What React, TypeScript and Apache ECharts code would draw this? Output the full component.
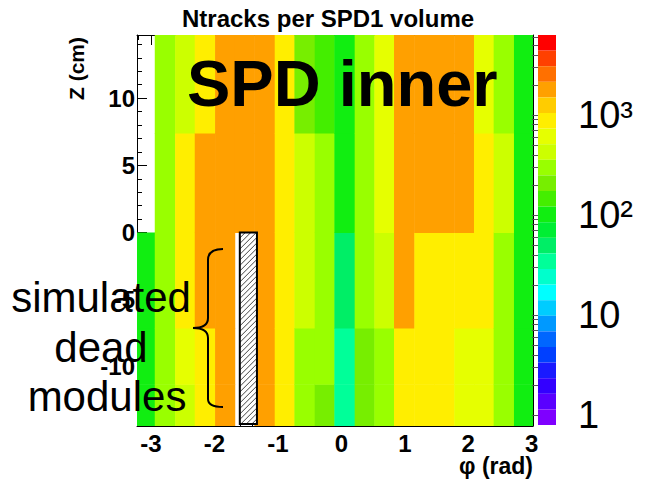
import React, { useEffect, useRef } from 'react';
import * as echarts from 'echarts';

// ---------- data ----------
const phiEdges = [-3.25, -2.94, -2.62, -2.31, -1.99, -1.68, -1.37, -1.05, -0.74, -0.42, -0.11, 0.21, 0.52, 0.83, 1.15, 1.46, 1.78, 2.09, 2.40, 2.72, 3.03];
const zEdges = [-14.4, -11.3, -7.1, 0, 7.4, 14.7];
// Ntracks per (phi column) for z bins bottom -> top; null = empty
const counts: (number | null)[][] = [
  [105, 110, 100, null, null],
  [300, 290, 310, 295, 305],
  [430, 610, 880, 870, 430],
  [880, 860, 1800, 1750, 890],
  [1800, 1850, 1780, 1820, 1790],
  [null, null, null, 1800, 1810],
  [1790, 1820, 1800, 1830, 1780],
  [880, 890, 900, 870, 860],
  [300, 310, 430, 440, 210],
  [210, 300, 300, 295, 150],
  [35, 36, 49, 100, 105],
  [210, 205, 300, 300, 295],
  [300, 295, 430, 610, 600],
  [870, 880, 1800, 1790, 1820],
  [890, 870, 880, 1800, 1780],
  [880, 900, 870, 1810, 1800],
  [600, 610, 880, 1790, 1800],
  [620, 600, 880, 870, 600],
  [300, 295, 300, 430, 300],
  [110, 105, 100, 102, 108],
];
const deadPhi = [-1.6, -1.33];
const deadZ = [-14.25, 0];

const xMin = -3.22, xMax = 3.02;
const yMin = -14.4, yMax = 14.7;

const colorbarTicks = [1, 10, 100, 1000];
const colorbarLabels = ['1', '10', '10²', '10³'];
const colorbarMinorTicks = [2, 3, 4, 5, 6, 7, 8, 9, 20, 30, 40, 50, 60, 70, 80, 90, 200, 300, 400, 500, 600, 700, 800, 900, 2000, 3000, 4000, 5000, 6000];
const logMin = -0.1, logMax = 3.8;
const paletteColors = [
  '#7f00ff', '#5a00ff', '#3300ff', '#1a1aff', '#0040ff', '#0066ff', '#0099ff', '#00ccff', '#00ffff', '#00ffcc',
  '#00ff99', '#00ee66', '#00ee33', '#11ee11', '#44ee00', '#77ee00', '#99ff00', '#ccff00', '#e6ff00', '#ffee00',
  '#ffcc00', '#ffa000', '#ff7000', '#ff4000', '#ff0000',
];

const braceD = 'M223 249 C214 249 208 252 208 260 L208 318 C208 324 203 328 193 328 C203 328 208 332 208 338 L208 399 C208 405 214 407 223 407';
echarts.graphic.registerShape('brace', echarts.graphic.extendPath(braceD, {}));

const FONT = 'Liberation Sans';

export default function App() {
  const ref = useRef<HTMLDivElement>(null);
  useEffect(() => {
    if (!ref.current) return;
    const chart = echarts.init(ref.current, null, { renderer: 'svg' });

    const heatData: number[][] = [];
    counts.forEach((col, i) => {
      col.forEach((n, j) => {
        if (n != null) heatData.push([phiEdges[i], phiEdges[i + 1], zEdges[j], zEdges[j + 1], n]);
      });
    });

    const step = (logMax - logMin) / paletteColors.length;
    const pieces = paletteColors.map((c, i) => ({
      gte: Math.pow(10, logMin + i * step),
      lt: Math.pow(10, logMin + (i + 1) * step),
      color: c,
    })).reverse();

    const axisCommon = {
      type: 'value',
      axisLine: { show: true, onZero: false, lineStyle: { color: '#000', width: 1 } },
      axisTick: { show: true, inside: true, length: 10, lineStyle: { color: '#000' } },
      minorTick: { show: true, splitNumber: 5, length: 5, lineStyle: { color: '#000' } },
      splitLine: { show: false },
      minorSplitLine: { show: false },
    };
    const labelStyle = { color: '#000', fontFamily: FONT, fontWeight: 'bold', fontSize: 24, showMinLabel: false, showMaxLabel: false };

    chart.setOption({
      animation: false,
      backgroundColor: '#fff',
      title: {
        text: 'Ntracks per SPD1 volume',
        left: 182, top: 6, padding: 0,
        textStyle: { fontFamily: FONT, fontWeight: 'bold', fontSize: 24, color: '#000' },
      },
      grid: [
        { left: 137, top: 35, width: 396, height: 391, outerBoundsMode: 'none', containLabel: false },
        { left: 538, top: 35, width: 18, height: 390, outerBoundsMode: 'none', containLabel: false },
      ],
      xAxis: [
        { ...axisCommon, gridIndex: 0, position: 'bottom', min: xMin, max: xMax, axisLabel: { ...labelStyle, margin: 5 } },
        { ...axisCommon, gridIndex: 0, position: 'top', min: xMin, max: xMax, axisLabel: { show: false } },
        { type: 'value', gridIndex: 1, show: false, min: 0, max: 1 },
      ],
      yAxis: [
        { ...axisCommon, gridIndex: 0, position: 'left', min: yMin, max: yMax, axisLabel: { ...labelStyle, margin: 2 } },
        { ...axisCommon, gridIndex: 0, position: 'right', min: yMin, max: yMax, axisLabel: { show: false } },
        {
          type: 'log', logBase: 10, gridIndex: 1, position: 'right', z: 10,
          min: Math.pow(10, logMin), max: Math.pow(10, logMax),
          axisLine: { show: false },
          splitLine: { show: false },
          axisTick: { show: true, inside: true, length: 6, customValues: colorbarMinorTicks.concat(colorbarTicks), lineStyle: { color: '#555' } },
          axisLabel: {
            customValues: colorbarTicks,
            formatter: (v: number) => colorbarLabels[colorbarTicks.findIndex((t) => Math.abs(t - v) < 1e-6 * t)] ?? '',
            color: '#000', fontFamily: FONT, fontSize: 38, margin: 22,
          },
        },
      ],
      visualMap: {
        type: 'piecewise', seriesIndex: 0, dimension: 4, orient: 'vertical',
        left: 538, top: 35, padding: 0, itemWidth: 18, itemHeight: 390 / paletteColors.length, itemGap: 0,
        itemSymbol: 'rect', showLabel: false, selectedMode: false, hoverLink: false,
        pieces,
      },
      series: [
        {
          type: 'custom', name: 'Ntracks', coordinateSystem: 'cartesian2d', xAxisIndex: 0, yAxisIndex: 0,
          clip: true, encode: { x: [0, 1], y: [2, 3] },
          data: heatData,
          renderItem: (params: any, api: any) => {
            const a = api.coord([api.value(0), api.value(3)]);
            const b = api.coord([api.value(1), api.value(2)]);
            return {
              type: 'rect',
              shape: { x: a[0], y: a[1], width: b[0] - a[0] + 0.5, height: b[1] - a[1] + 0.5 },
              style: { fill: api.visual('color') },
            };
          },
        },
        {
          type: 'custom', name: 'dead', coordinateSystem: 'cartesian2d', xAxisIndex: 0, yAxisIndex: 0,
          clip: true, z: 5, encode: { x: [0, 1], y: [2, 3] },
          data: [[deadPhi[0], deadPhi[1], deadZ[0], deadZ[1]]],
          renderItem: (params: any, api: any) => {
            const a = api.coord([api.value(0), api.value(3)]);
            const b = api.coord([api.value(1), api.value(2)]);
            const x0 = a[0], y0 = a[1], x1 = b[0], y1 = b[1];
            const children: any[] = [
              { type: 'rect', shape: { x: x0, y: y0, width: x1 - x0, height: y1 - y0 }, style: { fill: '#fff' } },
            ];
            const s = 5.5;
            for (let c = x0 + y0 + s; c < x1 + y1; c += s) {
              const xa = Math.max(x0, c - y1);
              const xb = Math.min(x1, c - y0);
              if (xb > xa) children.push({ type: 'line', shape: { x1: xa, y1: c - xa, x2: xb, y2: c - xb }, style: { stroke: '#444', lineWidth: 1 } });
            }
            children.push({ type: 'rect', shape: { x: x0, y: y0, width: x1 - x0, height: y1 - y0 }, style: { fill: 'none', stroke: '#000', lineWidth: 2 } });
            return { type: 'group', children };
          },
        },
      ],
      graphic: [
        { type: 'text', z: 100, x: 187, y: 83, style: { text: 'SPD inner', fontFamily: FONT, fontWeight: 'bold', fontSize: 65, fill: '#000', align: 'left', verticalAlign: 'middle' } },
        { type: 'text', z: 100, x: 101, y: 297, style: { text: 'simulated', fontFamily: FONT, fontSize: 42, fill: '#000', align: 'center', verticalAlign: 'middle' } },
        { type: 'text', z: 100, x: 101, y: 347, style: { text: 'dead', fontFamily: FONT, fontSize: 42, fill: '#000', align: 'center', verticalAlign: 'middle' } },
        { type: 'text', z: 100, x: 107, y: 396, style: { text: 'modules', fontFamily: FONT, fontSize: 42, fill: '#000', align: 'center', verticalAlign: 'middle' } },
        { type: 'brace', z: 100, x: 0, y: 0, style: { fill: 'none', stroke: '#000', lineWidth: 2 } },
        { type: 'text', z: 100, x: 76, y: 37, rotation: Math.PI / 2, style: { text: 'Z (cm)', fontFamily: FONT, fontWeight: 'bold', fontSize: 21, fill: '#000', align: 'right', verticalAlign: 'middle' } },
        { type: 'text', z: 100, x: 533, y: 466, style: { text: 'φ (rad)', fontFamily: FONT, fontWeight: 'bold', fontSize: 23, fill: '#000', align: 'right', verticalAlign: 'middle' } },
      ],
    });
    return () => chart.dispose();
  }, []);
  return <div ref={ref} style={{ position: 'absolute', left: 0, top: 0, width: 646, height: 486 }} />;
}
